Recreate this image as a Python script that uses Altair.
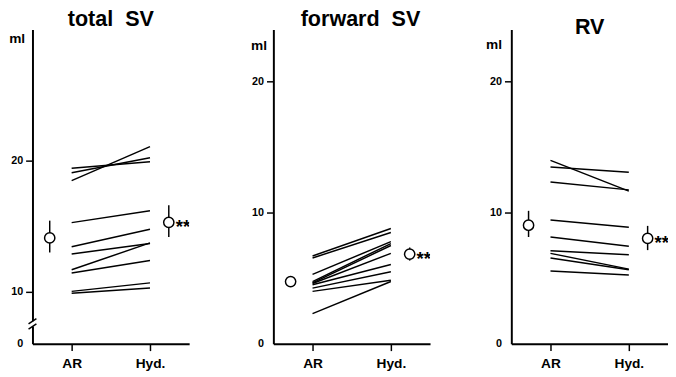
import altair as alt
import pandas as pd

FONT = "Liberation Sans"

# ---- data ----
phases = ["AR", "Hyd."]

total_ar = [18.45, 19.4, 19.05, 15.25, 13.4, 12.85, 11.65, 11.4, 10.0, 9.85]
total_hyd = [21.05, 19.9, 20.2, 16.15, 14.75, 13.65, 13.7, 12.35, 10.65, 10.25]
total_mean = [14.08, 15.27]
total_lo = [12.97, 14.15]
total_hi = [15.4, 16.57]

forward_ar = [6.7, 6.55, 5.3, 4.75, 4.65, 4.6, 4.5, 4.25, 4.0, 2.3]
forward_hyd = [8.8, 8.5, 7.8, 7.65, 7.5, 6.9, 6.05, 5.5, 4.85, 4.75]
forward_mean = [4.75, 6.85]
forward_lo = [4.55, 6.35]
forward_hi = [4.95, 7.35]

rv_ar = [14.0, 13.5, 12.35, 9.45, 8.15, 7.1, 6.9, 6.55, 5.55]
rv_hyd = [11.65, 13.1, 11.75, 8.9, 7.45, 6.8, 5.7, 5.65, 5.25]
rv_mean = [9.05, 8.05]
rv_lo = [8.15, 7.15]
rv_hi = [10.15, 9.0]

significance = ["", "**"]

# x layout (AR = 1, Hyd. = 2; mean markers sit outside the paired lines)
X_DOMAIN = [0.5, 2.5]
MEAN_X = [0.72, 2.24]


def panel(title, ar, hyd, mean, lo, hi, ydomain, yvalues, broken,
          title_y, ml_x, ml_y, title_dx=0):
    rows = []
    for i, (a, h) in enumerate(zip(ar, hyd)):
        rows.append({"s": i, "x": 1, "v": a})
        rows.append({"s": i, "x": 2, "v": h})
    lines_df = pd.DataFrame(rows)
    means_df = pd.DataFrame({
        "x": MEAN_X, "v": mean, "lo": lo, "hi": hi, "star": significance,
    })

    xscale = alt.Scale(domain=X_DOMAIN, nice=False, zero=False)
    yscale = alt.Scale(domain=ydomain, nice=False, zero=False)
    xaxis = alt.Axis(
        values=[1, 2], title=None, tickSize=7, labelPadding=6,
        labelFontSize=14,
        labelExpr="datum.value == 1 ? 'AR' : 'Hyd.'",
    )
    bottom = ydomain[0]
    yaxis = alt.Axis(
        values=yvalues, tickSize=7, labelPadding=3, labelFontSize=11,
        title="ml", titleAngle=0, titleAlign="right", titleBaseline="middle",
        titleX=ml_x, titleY=ml_y, titleFontSize=14,
        labelExpr=f"datum.value == {bottom} ? '0' : datum.label",
        tickOpacity={"condition": {"test": f"datum.value == {bottom}", "value": 0}, "value": 1},
    )

    X = lambda f: alt.X(f, scale=xscale, axis=xaxis)
    Y = lambda f: alt.Y(f, scale=yscale, axis=yaxis)

    lines = alt.Chart(lines_df).mark_line(color="black", strokeWidth=1.5).encode(
        x=X("x:Q"), y=Y("v:Q"), detail="s:N"
    )
    err = alt.Chart(means_df).mark_rule(color="black", strokeWidth=1.5).encode(
        x=X("x:Q"), y=Y("lo:Q"), y2="hi:Q"
    )
    pts = alt.Chart(means_df).mark_point(
        shape="circle", filled=True, fill="white", stroke="black",
        strokeWidth=1.5, size=110, opacity=1
    ).encode(x=X("x:Q"), y=Y("v:Q"))
    stars = alt.Chart(means_df).mark_text(
        align="left", baseline="middle", dx=7, dy=5, fontSize=19,
        fontWeight="bold", font=FONT, color="black", clip=True
    ).encode(x=X("x:Q"), y=Y("v:Q"), text="star:N")

    head = alt.Chart(pd.DataFrame({"t": [title]})).mark_text(
        align="center", baseline="alphabetic", fontSize=22, fontWeight="bold",
        font=FONT, color="black"
    ).encode(x=alt.value(80 + title_dx), y=alt.value(title_y), text="t:N")

    layers = [lines, err, pts, stars, head]
    if broken:
        gap_df = pd.DataFrame({"a": [7.32], "b": [7.72]})
        gap = alt.Chart(gap_df).mark_rule(color="white", strokeWidth=4).encode(
            x=alt.value(0), y=Y("a:Q"), y2="b:Q"
        )
        slash_df = pd.DataFrame({"a": [7.12, 7.52], "b": [7.52, 7.92]})
        slash = alt.Chart(slash_df).mark_rule(color="black", strokeWidth=1.5).encode(
            x=alt.value(-4), x2=alt.value(4), y=Y("a:Q"), y2="b:Q"
        )
        layers += [gap, slash]

    return alt.layer(*layers).properties(width=160, height=321)


p1 = panel("total\u00a0 SV", total_ar, total_hyd, total_mean, total_lo, total_hi,
           [6, 30], [6, 10, 20], True, -3, -8, 9)
p2 = panel("forward\u00a0 SV", forward_ar, forward_hyd, forward_mean, forward_lo, forward_hi,
           [0, 24], [0, 10, 20], False, -3, -7, 16, title_dx=9)
p3 = panel("RV", rv_ar, rv_hyd, rv_mean, rv_lo, rv_hi,
           [0, 24], [0, 10, 20], False, 5, -10, 15)

chart = alt.hconcat(alt.hconcat(p1, p2, spacing=62), p3, spacing=56).properties(
    padding={"left": 0, "top": -3, "right": 0, "bottom": 0}
).configure_view(stroke=None).configure_axis(
    grid=False, domainColor="black", domainWidth=2, tickColor="black",
    tickWidth=1.5, labelFont=FONT, labelFontWeight="bold", labelColor="black",
    titleFont=FONT, titleFontWeight="bold", titleColor="black",
)

chart.save("out.html", embed_options={"renderer": "svg", "actions": False})
